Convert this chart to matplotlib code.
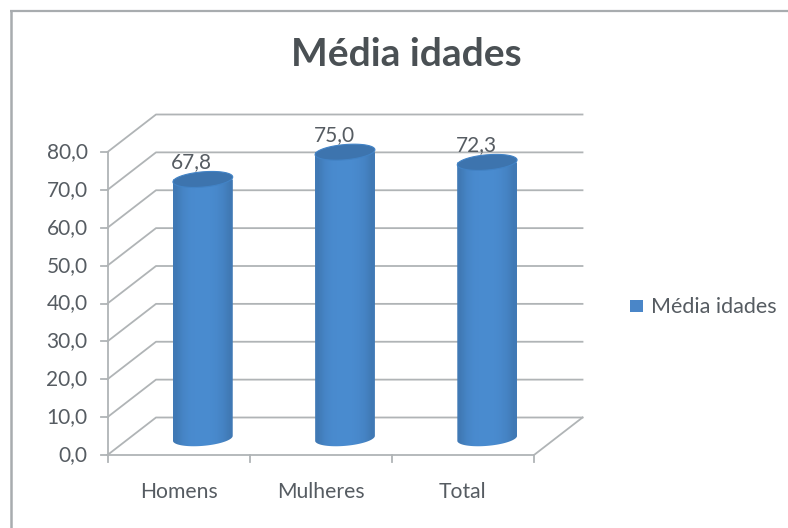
from __future__ import annotations

import matplotlib

matplotlib.use("Agg")
import matplotlib.pyplot as plt
import numpy as np
from matplotlib.patches import PathPatch, Polygon, Rectangle
from matplotlib.path import Path as MplPath

plt.rcParams["font.family"] = ["Lato", "DejaVu Sans"]

CATEGORIES = ["Homens", "Mulheres", "Total"]
VALUES = [67.8, 75.0, 72.3]
VALUE_LABELS = ["67,8", "75,0", "72,3"]
Y_TICKS = [0, 10, 20, 30, 40, 50, 60, 70, 80]
Y_TICK_LABELS = ["0,0", "10,0", "20,0", "30,0", "40,0", "50,0", "60,0", "70,0", "80,0"]
SERIES_NAME = "Média idades"

W, H = 788, 528
LEFT, RIGHT, FLOOR, TOP = 107.5, 534.0, 455.0, 152.0
DEPTH_X, DEPTH_Y = 48.5, 37.5  # oblique shift of the back wall, in pixels
GRID = "#b0b4b6"
TEXT = "#565c62"

fig = plt.figure(figsize=(W / 100, H / 100), dpi=100)
page = fig.add_axes([0, 0, 1, 1])
page.set_xlim(0, W)
page.set_ylim(H, 0)
page.axis("off")

ax = fig.add_axes([LEFT / W, 1 - FLOOR / H, (RIGHT - LEFT) / W, (FLOOR - TOP) / H])
ax.set_xlim(0, len(CATEGORIES))
ax.set_ylim(0, 80)
ax.patch.set_alpha(0)
ax.axis("off")

px_x = len(CATEGORIES) / (RIGHT - LEFT)  # category units per pixel
px_y = 80 / (FLOOR - TOP)  # value units per pixel
dx = DEPTH_X * px_x
dy = DEPTH_Y * px_y


def tilted_ellipse(cx, cy, a=30.0, b=7.6, tilt=5.0, n=80):
    # ellipse outline around a data point, shaped in pixels and rising to the right
    t = np.linspace(0, 2 * np.pi, n)
    th = np.radians(tilt)
    ex = a * np.cos(t) * np.cos(th) - b * np.sin(t) * np.sin(th)
    ey = a * np.cos(t) * np.sin(th) + b * np.sin(t) * np.cos(th)
    return cx + ex * px_x, cy + ey * px_y, t


# outer chart frame, only top and left reach the page
page.plot([11, 11], [528, 10.5], color="#a8acaf", lw=1.8, solid_capstyle="butt")
page.plot([10, 788], [10.5, 10.5], color="#a8acaf", lw=1.6, solid_capstyle="butt")

# gridlines on the back wall and their oblique returns to the value axis
for v, tick_label in zip(Y_TICKS, Y_TICK_LABELS):
    ax.plot([0, dx, 3 + dx], [v, v + dy, v + dy], color=GRID, lw=1.3, clip_on=False)
    ax.plot([-7 * px_x, 0], [v, v], color=GRID, lw=1.3, clip_on=False)
    ax.text(-20 * px_x, v, tick_label, ha="right", va="center", fontsize=15, color=TEXT,
            clip_on=False)

ax.plot([0, 0], [0, 80], color=GRID, lw=1.3, clip_on=False)
ax.plot([0, 3, 3 + dx], [0, 0, dy], color=GRID, lw=1.3, clip_on=False)
for i in range(len(CATEGORIES) + 1):
    ax.plot([i, i], [0, -7 * px_y], color=GRID, lw=1.3, clip_on=False)

# cylinders stand halfway back on the floor
shade = np.array([0.90, 0.98, 1.02, 1.03, 1.03, 1.03, 1.01, 0.97, 0.90]).reshape(1, -1, 1)
gradient = np.clip(shade * np.array([0.28, 0.53, 0.79]), 0, 1)
for i, (val, lab) in enumerate(zip(VALUES, VALUE_LABELS)):
    cx = i + 0.5 + 0.5 * dx
    y0 = 0.5 * dy - 2.0 * px_y
    y1 = val + 0.5 * dy
    bx, by, t = tilted_ellipse(cx, y0)
    tx, ty, _ = tilted_ellipse(cx, y1)
    left_edge = cx - 30 * px_x
    right_edge = cx + 30 * px_x
    # side of the cylinder: gradient image clipped to bottom arc plus straight sides
    body = Polygon(
        np.vstack([
            [[left_edge, y1]],
            np.column_stack([bx[t > np.pi], by[t > np.pi]]),
            [[right_edge, y1]],
        ]),
        closed=True, facecolor="none", edgecolor="none",
    )
    ax.add_patch(body)
    img = ax.imshow(gradient, extent=[left_edge, right_edge, -10, 100], aspect="auto",
                    interpolation="bilinear", zorder=3)
    img.set_clip_path(body)
    cap = PathPatch(MplPath(np.column_stack([tx, ty]), closed=True), facecolor="#3d74ae",
                    edgecolor="#4283c6", lw=0.8, zorder=4, clip_on=False)
    ax.add_patch(cap)
    ax.text(cx - 11 * px_x, y1 + 17 * px_y, lab, ha="center", va="center", fontsize=15,
            color=TEXT, zorder=5, clip_on=False)
    ax.text(i + 0.5, -37 * px_y, CATEGORIES[i], ha="center", va="center", fontsize=15.2,
            color=TEXT, clip_on=False)

ax.set_xlim(0, len(CATEGORIES))
ax.set_ylim(0, 80)

page.text(406, 54, SERIES_NAME, ha="center", va="center", fontsize=28, fontweight="bold",
          color="#4a5054")

# legend key and label
page.add_patch(Rectangle((630, 300), 13, 12, facecolor="#4a86c8", edgecolor="none"))
page.text(651, 307, SERIES_NAME, ha="left", va="center", fontsize=15.5, color=TEXT)

fig.savefig("out.png", dpi=100, facecolor="white")
plt.close(fig)
